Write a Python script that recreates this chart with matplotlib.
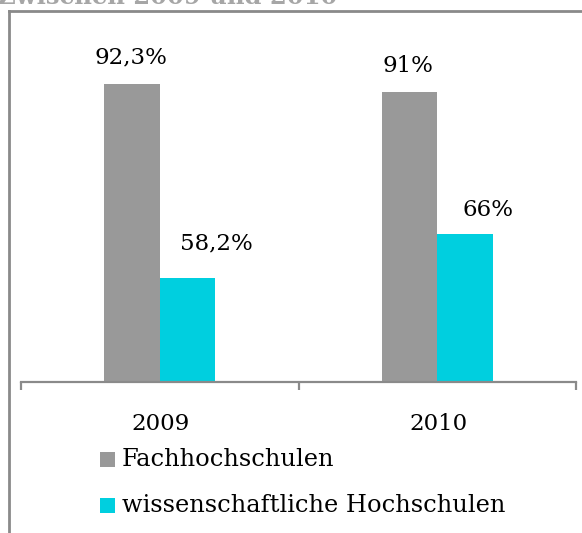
import matplotlib
matplotlib.use("Agg")
import matplotlib.pyplot as plt
from matplotlib.lines import Line2D
from matplotlib.patches import Rectangle

# ---- data ----
categories = ["2009", "2010"]
series_names = ["Fachhochschulen", "wissenschaftliche Hochschulen"]
fachhochschulen = [92.3, 91.0]
wiss_hochschulen = [58.2, 66.0]
labels_fh = ["92,3%", "91%"]
labels_wh = ["58,2%", "66%"]
title = "Zwischen 2009 und 2010"

# ---- style ----
C_GRAY = "#999999"
C_CYAN = "#00CFDF"
C_FRAME = "#8a8a8a"
FONT = "DejaVu Serif"
FS = 16.5
FS_LEG = 17.4

W, H = 582, 533
fig = plt.figure(figsize=(W / 100, H / 100), dpi=100)
fig.patch.set_facecolor("white")

ax = fig.add_axes([21 / W, (H - 381.7) / H, 555 / W, 341 / H])
ax.set_xlim(-0.5, 1.5)
ax.set_ylim(40, 100)

x = list(range(len(categories)))
bw = 0.2
ax.bar([i - bw / 2 for i in x], [v - 40 for v in fachhochschulen], bw,
       bottom=40, color=C_GRAY, label=series_names[0], linewidth=0)
ax.bar([i + bw / 2 for i in x], [v - 40 for v in wiss_hochschulen], bw,
       bottom=40, color=C_CYAN, label=series_names[1], linewidth=0)

# value labels (manual offsets in pixels as in the original)
off_fh = [(-1, 27), (-1.5, 26)]
off_wh = [(29, 35), (23, 24)]
for i in x:
    ax.annotate(labels_fh[i], (i - bw / 2, fachhochschulen[i]),
                xytext=(off_fh[i][0] * 0.72, off_fh[i][1] * 0.72),
                textcoords="offset points", ha="center", va="center",
                fontsize=FS, family=FONT, color="black")
    ax.annotate(labels_wh[i], (i + bw / 2, wiss_hochschulen[i]),
                xytext=(off_wh[i][0] * 0.72, off_wh[i][1] * 0.72),
                textcoords="offset points", ha="center", va="center",
                fontsize=FS, family=FONT, color="black")

# axes styling
for s in ["top", "right", "left"]:
    ax.spines[s].set_visible(False)
ax.spines["bottom"].set_color(C_FRAME)
ax.spines["bottom"].set_linewidth(1.6)
ax.set_yticks([])
ax.set_xticks([-0.5, 0.5, 1.5])
ax.set_xticklabels([])
ax.tick_params(axis="x", direction="out", length=6, width=1.6, color=C_FRAME)

# category labels
for i, c in enumerate(categories):
    ax.annotate(c, (i, 40), xytext=(1 * 0.72, -42 * 0.72),
                textcoords="offset points", ha="center", va="center",
                fontsize=FS, family=FONT, color="black")

# legend (manual)
leg_y = [459, 505]
leg_cols = [C_GRAY, C_CYAN]
for k in range(2):
    yc = leg_y[k]
    fig.patches.append(Rectangle((100 / W, (H - yc - 7.5) / H), 15 / W, 15 / H,
                                 transform=fig.transFigure, color=leg_cols[k],
                                 linewidth=0))
    fig.text(122 / W, (H - yc) / H, series_names[k], ha="left", va="center",
             fontsize=FS_LEG, family=FONT, color="black")

# frame of the chart area
fig.add_artist(Line2D([9 / W, 9 / W], [0, (H - 11) / H], color=C_FRAME,
                      linewidth=2.0, transform=fig.transFigure))
fig.add_artist(Line2D([9 / W, 1.0], [(H - 11) / H, (H - 11) / H], color=C_FRAME,
                      linewidth=2.0, transform=fig.transFigure))

# cut-off title at the very top
fig.text(-2 / W, (H - 4.5) / H, title, ha="left", va="baseline",
         fontsize=17.5, family=FONT, fontweight="bold", color="#a6a6a6")

fig.savefig("out.png", dpi=100)
